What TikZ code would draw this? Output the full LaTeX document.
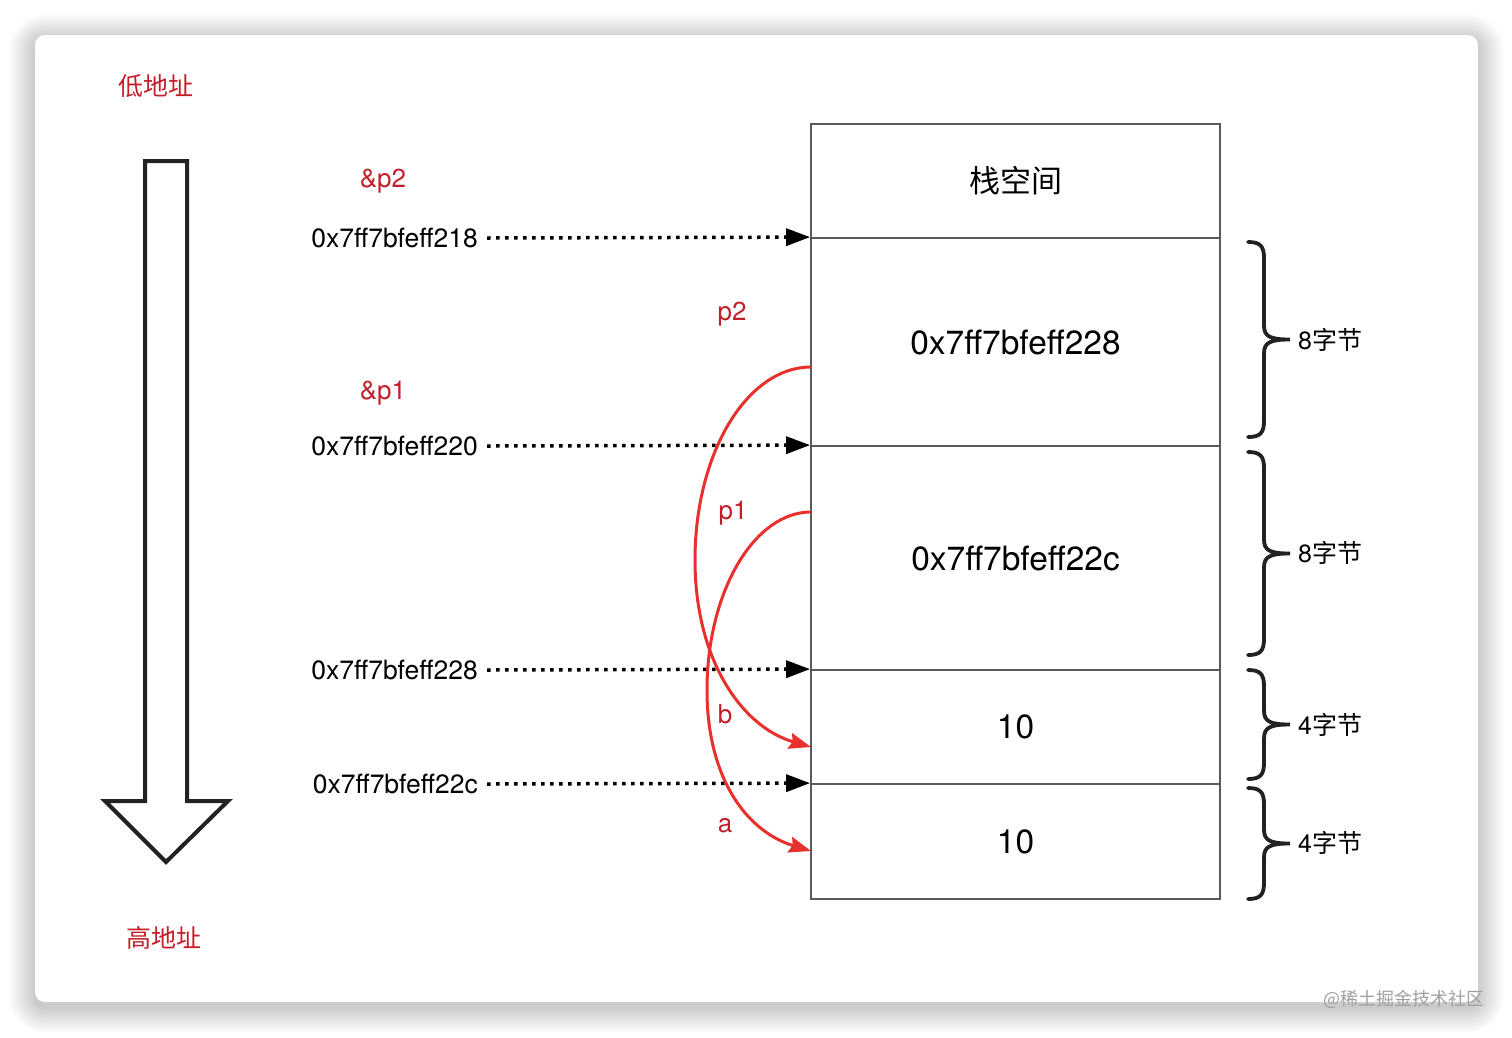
\documentclass[tikz,border=0pt]{standalone}
\usepackage{fontspec}
\setmainfont{TeX Gyre Heros}
\newfontfamily\cjk{Noto Sans CJK SC}
\usetikzlibrary{arrows.meta}
\definecolor{lblred}{RGB}{196,30,42}
\definecolor{curvered}{RGB}{232,48,44}
\definecolor{boxgray}{RGB}{90,90,90}
\definecolor{ink}{RGB}{34,34,34}
\definecolor{wm}{RGB}{160,160,160}
\newcommand\rbrc[2]{%
  \draw[bracepath] (1248,#1) .. controls (1260,#1) and (1264,#1+4) .. (1264,#1+16)
    -- (1264,{(#1+#2)/2-14}) .. controls (1264,{(#1+#2)/2-3}) and (1270,{(#1+#2)/2}) .. (1290,{(#1+#2)/2})
    .. controls (1270,{(#1+#2)/2}) and (1264,{(#1+#2)/2+3}) .. (1264,{(#1+#2)/2+14})
    -- (1264,#2-16) .. controls (1264,#2-4) and (1260,#2) .. (1248,#2);}
\begin{document}
\begin{tikzpicture}[x=1pt,y=-1pt,
  row/.style={draw=boxgray,line width=1.8pt,minimum width=409pt,inner sep=0pt,font=\fontsize{33.5}{33.5}\selectfont},
  addr/.style={anchor=east,inner sep=0pt,font=\fontsize{26.5}{26.5}\selectfont,text=black},
  redlbl/.style={text=lblred,inner sep=0pt,font=\fontsize{26}{26}\selectfont},
  dotarrow/.style={line width=3.5pt,dash pattern=on 3.5pt off 5.5pt,-{Triangle[length=24pt,width=17pt]}},
  ptr/.style={curvered,line width=3pt,-{Stealth[length=22pt,width=16pt,inset=3pt]}},
  bracepath/.style={ink,line width=3.8pt,line cap=round},
  bracelbl/.style={anchor=west,inner sep=0pt,font=\fontsize{25}{25}\selectfont}
]
\useasboundingbox (0,0) rectangle (1512,1037);
\fill[white] (0,0) rectangle (1512,1037);
% shadow
\foreach \i in {1,...,26}{
  \fill[black,opacity=0.008,rounded corners={10+\i}] (35-\i,35-\i+5) rectangle (1478+\i,1002+\i+5);
}
\fill[white,rounded corners=10] (35,35) rectangle (1478,1002);

% stack rows
\node[row,minimum height=114pt] (r0) at (1015.5,181) {\cjk\fontsize{31}{31}\selectfont 栈空间};
\node[row,minimum height=208pt] (r1) at (1015.5,342) {0x7ff7bfeff228};
\node[row,minimum height=224pt] (r2) at (1015.5,558) {0x7ff7bfeff22c};
\node[row,minimum height=114pt] (r3) at (1015.5,727) {10};
\node[row,minimum height=115pt] (r4) at (1015.5,841.5) {10};

% address labels
\node[addr] (a1) at (478,238) {0x7ff7bfeff218};
\node[addr] (a2) at (478,446) {0x7ff7bfeff220};
\node[addr] (a3) at (478,670) {0x7ff7bfeff228};
\node[addr] (a4) at (478,784) {0x7ff7bfeff22c};
\draw[dotarrow] ([xshift=9pt]a1.east) -- (r1.north west);
\draw[dotarrow] ([xshift=9pt]a2.east) -- (r2.north west);
\draw[dotarrow] ([xshift=9pt]a3.east) -- (r3.north west);
\draw[dotarrow] ([xshift=9pt]a4.east) -- (r4.north west);

% red labels
\node[redlbl] (lp2a) at (383,181) {\&p2};
\node[redlbl] (lp1a) at (383,393) {\&p1};
\node[redlbl] (lp2) at (732,314) {p2};
\node[redlbl] (lp1) at (733,513) {p1};
\node[redlbl] (lb) at (725,714) {b};
\node[redlbl] (la) at (725,826) {a};
\node[redlbl] (low) at (156,86) {\cjk\fontsize{25}{25}\selectfont 低地址};
\node[redlbl] (high) at (164,938) {\cjk\fontsize{25}{25}\selectfont 高地址};

% pointer curves
\coordinate (p2s) at (811,367);
\coordinate (p2e) at (811,747);
\coordinate (p1s) at (811,512);
\coordinate (p1e) at (811,851);
\draw[ptr] (p2s) .. controls (747,367) and (695,453) .. (695,560)
  .. controls (695,660) and (742,727) .. (p2e);
\draw[ptr] (p1s) .. controls (754,512) and (707,592) .. (707,690)
  .. controls (707,780) and (748,832) .. (p1e);

% big hollow arrow
\draw[ink,line width=4pt,line join=miter] (145,161) -- (187,161) -- (187,801) -- (228,801)
  -- (166,862) -- (105,801) -- (145,801) -- cycle;

% braces
\rbrc{242}{437}
\rbrc{452}{655}
\rbrc{670}{779}
\rbrc{788}{899}
\node[bracelbl] (b1) at (1298,340) {8\cjk 字节};
\node[bracelbl] (b2) at (1298,553) {8\cjk 字节};
\node[bracelbl] (b3) at (1298,725) {4\cjk 字节};
\node[bracelbl] (b4) at (1298,843) {4\cjk 字节};

% watermark
\node[anchor=east,inner sep=0pt,text=wm,font=\cjk\fontsize{18}{18}\selectfont] (wmk) at (1485,999) {@稀土掘金技术社区};
\end{tikzpicture}
\end{document}
